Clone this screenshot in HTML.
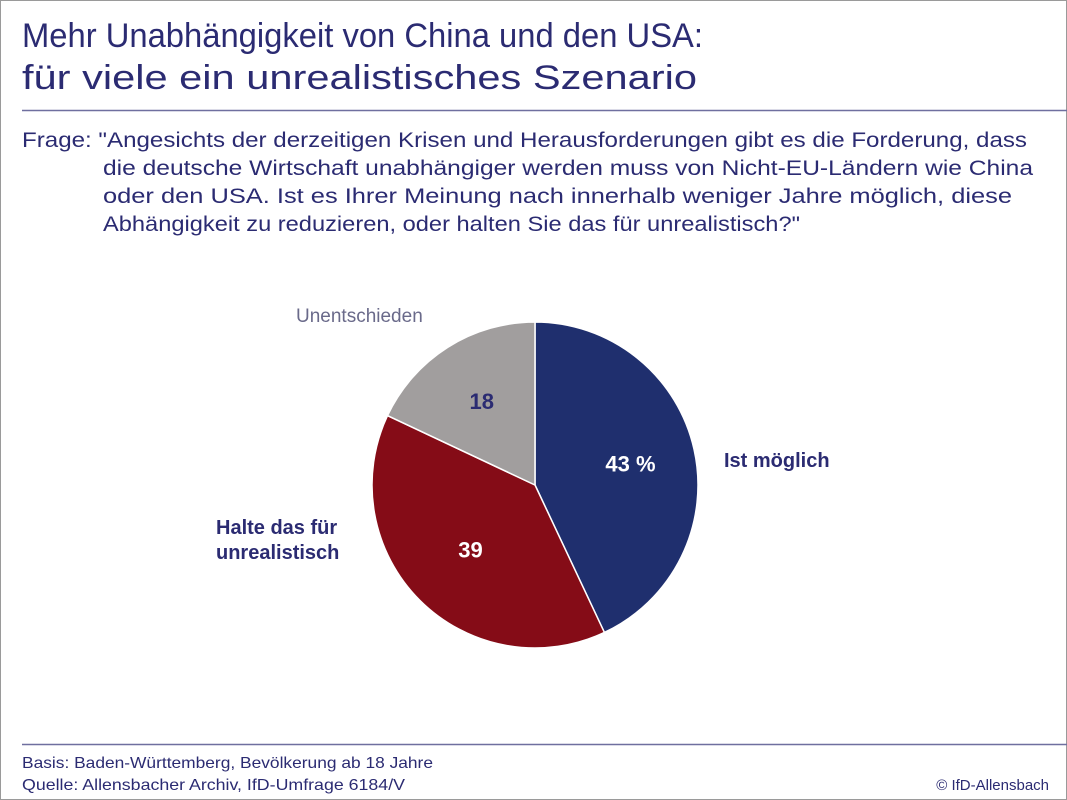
<!DOCTYPE html>
<html><head><meta charset="utf-8"><style>
body{margin:0;background:#fff}
svg{display:block}
text{font-family:"Liberation Sans",sans-serif}
</style></head><body>
<svg width="1067" height="800" viewBox="0 0 1067 800">
<rect x="0.5" y="0.5" width="1066" height="799" fill="#fff" stroke="#9a9a9a"/>
<g fill="#2b2b72">
<text x="22" y="47" font-size="34" textLength="681" lengthAdjust="spacingAndGlyphs">Mehr Unabhängigkeit von China und den USA:</text>
<text x="22" y="89" font-size="34" textLength="675" lengthAdjust="spacingAndGlyphs">für viele ein unrealistisches Szenario</text>
</g>
<line x1="22" y1="110.5" x2="1067" y2="110.5" stroke="#6f6f9f" stroke-width="1.5"/>
<g fill="#2b2b72" font-size="21">
<text x="22" y="147" textLength="1005" lengthAdjust="spacingAndGlyphs">Frage: "Angesichts der derzeitigen Krisen und Herausforderungen gibt es die Forderung, dass</text>
<text x="103" y="175" textLength="930" lengthAdjust="spacingAndGlyphs">die deutsche Wirtschaft unabhängiger werden muss von Nicht-EU-Ländern wie China</text>
<text x="103" y="203" textLength="909" lengthAdjust="spacingAndGlyphs">oder den USA. Ist es Ihrer Meinung nach innerhalb weniger Jahre möglich, diese</text>
<text x="103" y="231" textLength="697" lengthAdjust="spacingAndGlyphs">Abhängigkeit zu reduzieren, oder halten Sie das für unrealistisch?"</text>
</g>
<g id="pie"></g>
<text x="296" y="322" font-size="19" fill="#6a6a8a">Unentschieden</text>
<text x="724" y="467" font-size="20" font-weight="bold" fill="#2b2b72">Ist möglich</text>
<text x="216" y="534" font-size="20" font-weight="bold" fill="#2b2b72">Halte das für</text>
<text x="216" y="559" font-size="20" font-weight="bold" fill="#2b2b72">unrealistisch</text>
<line x1="22" y1="744.5" x2="1067" y2="744.5" stroke="#6f6f9f" stroke-width="1.5"/>
<g fill="#2b2b72" font-size="16">
<text x="22" y="768" textLength="411" lengthAdjust="spacingAndGlyphs">Basis: Baden-Württemberg, Bevölkerung ab 18 Jahre</text>
<text x="22" y="790" textLength="383" lengthAdjust="spacingAndGlyphs">Quelle: Allensbacher Archiv, IfD-Umfrage 6184/V</text>
<text x="1049" y="790" text-anchor="end" font-size="15">© IfD-Allensbach</text>
</g>
</svg>
<script>
const categories=["Ist möglich","Halte das für unrealistisch","Unentschieden"];
const values=[43,39,18];
const valueLabels=["43 %","39","18"];
const colors=["#1f2f6e","#850c17","#a19e9e"];
const labelColors=["#fff","#fff","#2b2b72"];
const labelRadius=[0.6,0.56,0.61];
const ns="http://www.w3.org/2000/svg";
const g=document.getElementById("pie");
const cx=535,cy=485,r=163;
const total=values.reduce((a,b)=>a+b,0);
function pt(a,rr){return [cx+rr*Math.sin(a),cy-rr*Math.cos(a)];}
let a0=0;
values.forEach((v,i)=>{
  const a1=a0+v/total*2*Math.PI;
  const p0=pt(a0,r),p1=pt(a1,r);
  const large=(a1-a0)>Math.PI?1:0;
  const path=document.createElementNS(ns,"path");
  path.setAttribute("d",`M${cx},${cy} L${p0[0]},${p0[1]} A${r},${r} 0 ${large} 1 ${p1[0]},${p1[1]} Z`);
  path.setAttribute("fill",colors[i]);
  path.setAttribute("stroke","#fff");
  path.setAttribute("stroke-width","1.5");
  
  
  g.appendChild(path);
  const m=(a0+a1)/2;
  const lp=pt(m,r*labelRadius[i]);
  const t=document.createElementNS(ns,"text");
  t.setAttribute("x",lp[0]);
  t.setAttribute("y",lp[1]+8);
  t.setAttribute("text-anchor","middle");
  t.setAttribute("font-size","22");
  t.setAttribute("font-weight","bold");
  t.setAttribute("fill",labelColors[i]);
  t.textContent=valueLabels[i];
  
  
  g.appendChild(t);
  a0=a1;
});
</script>
</body></html>
